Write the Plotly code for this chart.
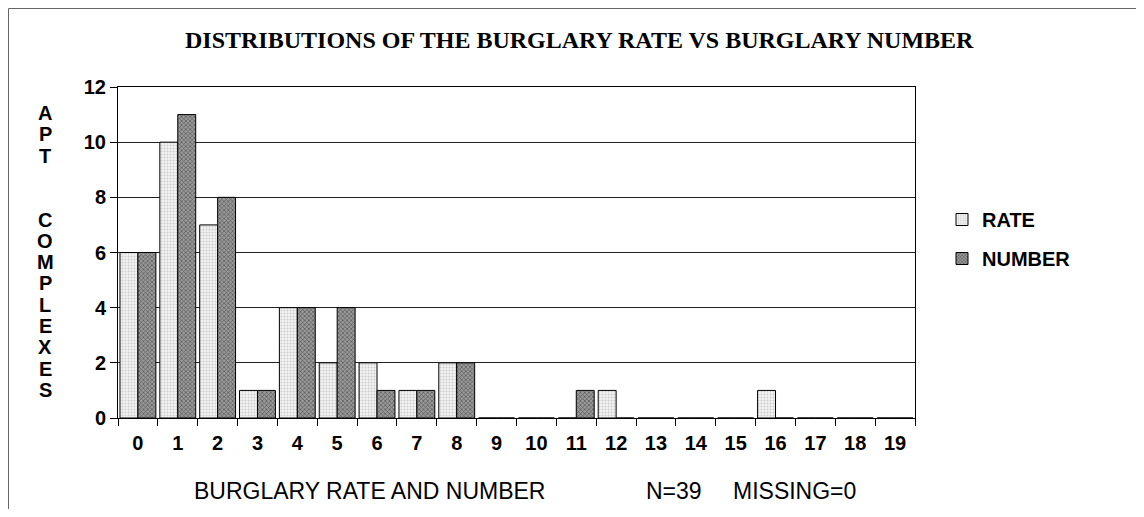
import plotly.graph_objects as go

categories = list(range(20))
tick_labels = [str(c) for c in categories]
rate_counts = [6, 10, 7, 1, 4, 2, 2, 1, 2, 0, 0, 0, 1, 0, 0, 0, 1, 0, 0, 0]
number_counts = [6, 11, 8, 1, 4, 4, 1, 1, 2, 0, 0, 1, 0, 0, 0, 0, 0, 0, 0, 0]
y_ticks = [0, 2, 4, 6, 8, 10, 12]
boundaries = [c - 0.5 for c in categories] + [categories[-1] + 0.5]
y_label_letters = list("APT  COMPLEXES")

# the page body has an 8px margin; positions below are window pixels
OFF = 8
W_FIG, H_FIG = 1144 - 2 * OFF, 517 - 2 * OFF
L, R, T, B = 118 - OFF, 915 - OFF, 87 - OFF, 418 - OFF
PW, PH = R - L, B - T


def px_x(x):
    return (x - OFF - L) / PW


def px_y(y):
    return (B - (y - OFF)) / PH


fig = go.Figure()
fig.add_trace(go.Bar(
    x=categories, y=rate_counts, name="RATE", legendgroup="rate",
    marker=dict(color="#f0f0f0", line=dict(color="black", width=1),
                pattern=dict(shape=".", bgcolor="#f3f3f3", fgcolor="#a0a0a0",
                             size=3, solidity=0.3)),
))
fig.add_trace(go.Bar(
    x=categories, y=number_counts, name="NUMBER", legendgroup="number",
    marker=dict(color="#666666", line=dict(color="black", width=1),
                pattern=dict(shape="x", bgcolor="#9a9a9a", fgcolor="#111111",
                             size=3, solidity=0.4)),
))

annotations = []
annotations.append(dict(
    text="DISTRIBUTIONS OF THE BURGLARY RATE VS BURGLARY NUMBER",
    x=px_x(579), y=px_y(40), xref="paper", yref="paper", showarrow=False,
    xanchor="center", yanchor="middle",
    font=dict(family="Liberation Serif", size=24, color="black", weight="bold"),
))
sub_font = dict(family="Liberation Sans, Arial", size=23, color="black")
annotations.append(dict(text="BURGLARY RATE AND NUMBER", x=px_x(369), y=px_y(491),
                        xref="paper", yref="paper", showarrow=False,
                        xanchor="center", yanchor="middle", font=sub_font))
annotations.append(dict(text="N=39", x=px_x(674), y=px_y(491),
                        xref="paper", yref="paper", showarrow=False,
                        xanchor="center", yanchor="middle", font=sub_font))
annotations.append(dict(text="MISSING=0", x=px_x(794), y=px_y(491),
                        xref="paper", yref="paper", showarrow=False,
                        xanchor="center", yanchor="middle", font=sub_font))

# stacked vertical y-axis label
y_start, pitch = 113, 21.3
for i, ch in enumerate(y_label_letters):
    if ch.strip() == "":
        continue
    annotations.append(dict(
        text=ch, x=px_x(45), y=px_y(y_start + i * pitch), xref="paper", yref="paper",
        showarrow=False, xanchor="center", yanchor="middle",
        font=dict(family="Liberation Sans, Arial", size=20, color="black", weight="bold"),
    ))

shapes = [
    dict(type="line", xref="paper", yref="paper", x0=px_x(8.5), x1=px_x(1144),
         y0=px_y(8.5), y1=px_y(8.5), line=dict(color="#666", width=1)),
    dict(type="line", xref="paper", yref="paper", x0=px_x(8.5), x1=px_x(8.5),
         y0=px_y(8.5), y1=px_y(517), line=dict(color="#666", width=1)),
]

tick_font = dict(family="Liberation Sans, Arial", size=20, color="black", weight="bold")

fig.update_layout(
    width=W_FIG, height=H_FIG,
    margin=dict(l=L, r=W_FIG - R, t=T, b=H_FIG - B, pad=0),
    paper_bgcolor="white", plot_bgcolor="white",
    barmode="group", bargap=0.1, bargroupgap=0.0,
    showlegend=True,
    legend=dict(x=px_x(942), y=px_y(200), xanchor="left", yanchor="top",
                font=dict(family="Liberation Sans, Arial", size=20, color="black", weight="bold"),
                tracegroupgap=10, bgcolor="rgba(0,0,0,0)"),
    annotations=annotations,
    shapes=shapes,
    xaxis=dict(
        range=[-0.5, 19.5], tickmode="array", tickvals=categories, ticktext=tick_labels,
        ticks="", tickfont=tick_font, ticklabelstandoff=7,
        showline=True, linecolor="black", linewidth=1, mirror=True,
        showgrid=False, zeroline=False,
        minor=dict(tickmode="array", tickvals=boundaries, ticks="outside",
                   ticklen=7, tickcolor="black", tickwidth=1, showgrid=False),
    ),
    yaxis=dict(
        range=[0, 12], tickmode="array", tickvals=y_ticks,
        ticks="outside", ticklen=7, tickcolor="black", tickfont=tick_font,
        showline=True, linecolor="black", linewidth=1, mirror=True,
        showgrid=True, gridcolor="#222", gridwidth=1, zeroline=False,
    ),
)

fig.write_html("out.html")
